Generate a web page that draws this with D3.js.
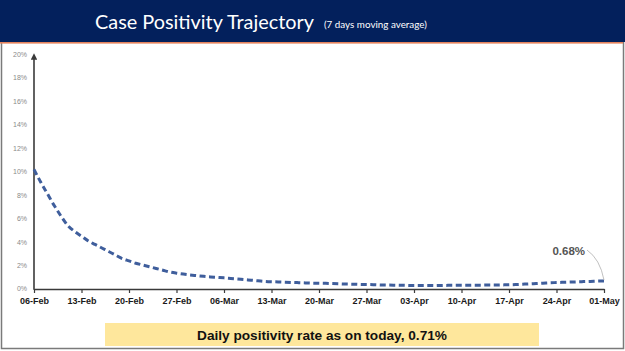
<!DOCTYPE html>
<html>
<head>
<meta charset="utf-8">
<script src="https://cdn.jsdelivr.net/npm/d3@7"></script>
<style>
html,body{margin:0;padding:0;background:#fff;}
svg{display:block;}
</style>
</head>
<body>
<svg id="chart" width="625" height="351"></svg>
<script>
// ---- data ----
const startDate = "2021-02-06";
// 7-day moving average case positivity (%), daily from 06-Feb to 01-May
const positivity = [
  10.2, 9.1, 8.1, 7.1, 6.2, 5.4, 4.9, 4.5, 4.1, 3.8, 3.5, 3.2, 2.9, 2.6, 2.4, 2.2, 2.05, 1.9, 1.75, 1.6, 1.45, 1.35, 1.27,
  1.2, 1.14, 1.08, 1.03, 0.99, 0.95, 0.9, 0.85, 0.8, 0.75, 0.7, 0.65, 0.62, 0.6, 0.58, 0.56, 0.54, 0.52, 0.5, 0.49, 0.48, 0.46, 0.44, 0.42, 0.41, 0.39, 0.38, 0.37, 0.35, 0.34, 0.33,
  0.32, 0.31, 0.3, 0.3, 0.3, 0.29, 0.3, 0.31, 0.31, 0.32, 0.32, 0.33, 0.33, 0.34, 0.34, 0.35, 0.36, 0.38, 0.41, 0.44, 0.47, 0.5, 0.53, 0.55, 0.57, 0.59, 0.61, 0.63, 0.65, 0.67,
  0.68
];
const xTickLabels = ["06-Feb","13-Feb","20-Feb","27-Feb","06-Mar","13-Mar","20-Mar","27-Mar","03-Apr","10-Apr","17-Apr","24-Apr","01-May"];
const yTicks = [0, 2, 4, 6, 8, 10, 12, 14, 16, 18, 20];
const titleText = "Case Positivity Trajectory";
const subtitleText = "(7 days moving average)";
const lastLabel = "0.68%";
const footerText = "Daily positivity rate as on today, 0.71%";

// ---- layout ----
const svg = d3.select("#chart");
const W = 625, H = 351;
const parse = d3.timeParse("%Y-%m-%d");
const t0 = parse(startDate);
const data = positivity.map((v, i) => ({ date: d3.timeDay.offset(t0, i), value: v }));
const tEnd = data[data.length - 1].date;

const x = d3.scaleTime().domain([t0, tEnd]).range([34, 604]);
const y = d3.scaleLinear().domain([0, 20]).range([289, 54.5]);

// fit text to a target width by adjusting font-size
function fitText(sel, targetW) {
  const fs = parseFloat(sel.attr("font-size"));
  const w = sel.node().getComputedTextLength();
  if (w > 0) sel.attr("font-size", (fs * targetW / w).toFixed(2));
  return sel;
}

// slide border
svg.append("rect").attr("x", 1.5).attr("y", 0).attr("width", W - 3).attr("height", H - 2.5)
  .attr("fill", "#fff").attr("stroke", "#7a7a7a").attr("stroke-width", 1.5);

// title bar
svg.append("rect").attr("x", 0).attr("y", 0).attr("width", W).attr("height", 42).attr("fill", "#03205c");
svg.append("rect").attr("x", 0).attr("y", 42).attr("width", W - 2).attr("height", 1.6).attr("fill", "#e3825c");
fitText(svg.append("text").attr("x", 95).attr("y", 29)
  .attr("font-family", "Lato, 'Open Sans', sans-serif").attr("font-size", 24).attr("fill", "#fff")
  .text(titleText), 219);
fitText(svg.append("text").attr("x", 324).attr("y", 28)
  .attr("font-family", "Lato, 'Open Sans', sans-serif").attr("font-size", 12).attr("fill", "#fff")
  .text(subtitleText), 103);

// y labels (no axis ticks)
svg.append("g").selectAll("text").data(yTicks).join("text")
  .attr("x", 27).attr("y", d => y(d)).attr("dy", "0.35em").attr("text-anchor", "end")
  .attr("font-family", "'Liberation Sans', Arial, sans-serif").attr("font-size", 7).attr("fill", "#8a8a8a")
  .text(d => d + "%");

// x axis
const tickDates = xTickLabels.map((_, i) => d3.timeDay.offset(t0, i * 7));
const xAxis = d3.axisBottom(x).tickValues(tickDates).tickSize(4).tickSizeOuter(0)
  .tickFormat((d, i) => xTickLabels[i]);
const gx = svg.append("g").attr("transform", `translate(0,${y(0)})`).call(xAxis);
gx.select(".domain").attr("stroke", "#3a3a3a").attr("stroke-width", 1.6);
gx.selectAll(".tick line").attr("stroke", "#3a3a3a").attr("stroke-width", 1.2);
gx.selectAll(".tick text").attr("y", 9).attr("dy", "0.71em")
  .attr("font-family", "'Liberation Sans', Arial, sans-serif").attr("font-weight", "bold")
  .attr("font-size", 9).attr("fill", "#1a1a1a");

// y axis line with arrow
svg.append("defs").append("marker").attr("id", "arr").attr("viewBox", "0 0 10 10")
  .attr("refX", 5).attr("refY", 5).attr("markerWidth", 4).attr("markerHeight", 4).attr("orient", "auto")
  .append("path").attr("d", "M0,0 L10,5 L0,10 z").attr("fill", "#3a3a3a");
svg.append("line").attr("x1", x(t0)).attr("x2", x(t0)).attr("y1", y(0) + 0.8).attr("y2", y(20) + 2)
  .attr("stroke", "#3a3a3a").attr("stroke-width", 1.6).attr("marker-end", "url(#arr)");

// line
const line = d3.line().x(d => x(d.date)).y(d => y(d.value)).curve(d3.curveMonotoneX);
svg.append("path").datum(data).attr("d", line).attr("fill", "none")
  .attr("stroke", "#3f5e9c").attr("stroke-width", 3).attr("stroke-dasharray", "6,3.5");

// last value annotation
const last = data[data.length - 1];
svg.append("path")
  .attr("d", `M${x(last.date) - 17},${y(last.value) - 31} Q${x(last.date) - 4},${y(last.value) - 22} ${x(last.date)},${y(last.value) - 1}`)
  .attr("fill", "none").attr("stroke", "#b0b0b0").attr("stroke-width", 0.8);
svg.append("text").attr("x", x(last.date) - 19).attr("y", y(last.value) - 30).attr("dy", "0.35em")
  .attr("text-anchor", "end").attr("font-family", "'Liberation Sans', Arial, sans-serif")
  .attr("font-weight", "bold").attr("font-size", 11.5).attr("fill", "#555").text(lastLabel);

// footer box
svg.append("rect").attr("x", 105).attr("y", 323).attr("width", 434).attr("height", 23).attr("fill", "#fee79c");
fitText(svg.append("text").attr("x", 322).attr("y", 335).attr("dy", "0.35em").attr("text-anchor", "middle")
  .attr("font-family", "'Liberation Sans', Arial, sans-serif").attr("font-weight", "bold")
  .attr("font-size", 12).attr("fill", "#111")
  .text(footerText), 250);
</script>
</body>
</html>
